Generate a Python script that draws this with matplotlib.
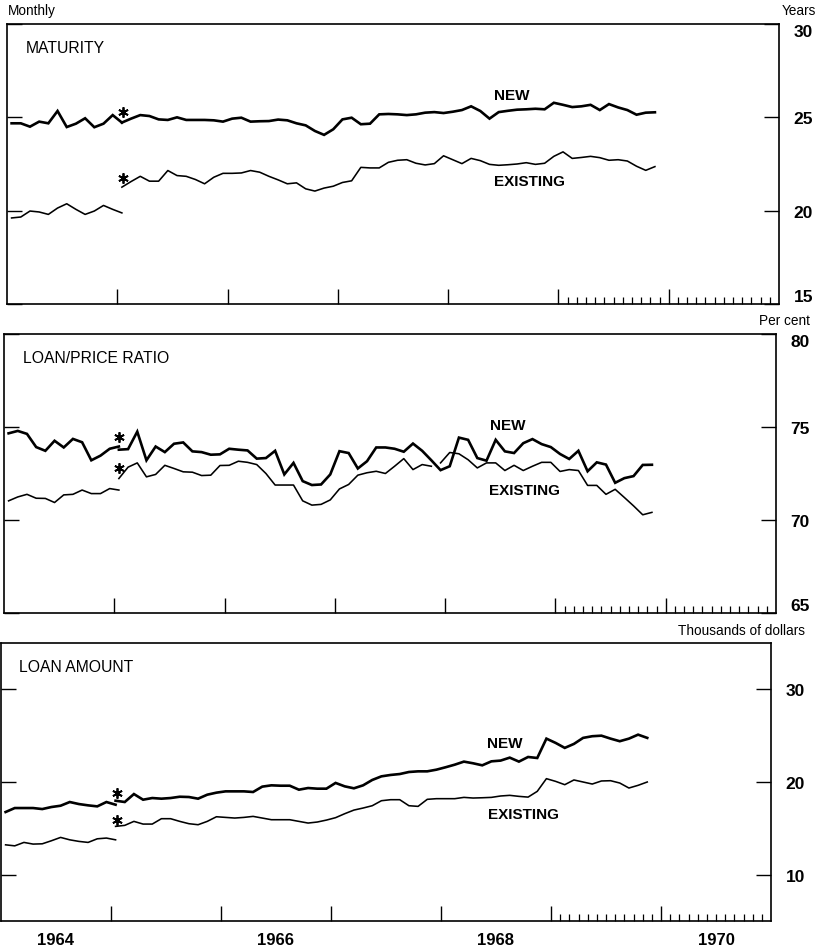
import numpy as np
import matplotlib
matplotlib.use("Agg")
import matplotlib.pyplot as plt
from matplotlib.transforms import blended_transform_factory

plt.rcParams['font.family'] = ['Liberation Sans', 'DejaVu Sans']

# ---- data (monthly) ----
# old series: Jan 1964 - Jan 1965, revised series: Jan 1965 - Nov 1969
old_start, old_len = 1964, 13
new_start, new_len = 1965, 59

mat_new_old = [24.68, 24.68, 24.5, 24.77, 24.68, 25.34, 24.48, 24.66, 24.95, 24.47, 24.66, 25.12, 24.72]
mat_new = [24.72, 24.93, 25.12, 25.07, 24.89, 24.86, 25.0, 24.86, 24.86, 24.86, 24.84, 24.77,
           24.93, 24.98, 24.77, 24.79, 24.8, 24.88, 24.84, 24.68, 24.57, 24.27, 24.06, 24.36,
           24.89, 24.98, 24.63, 24.66, 25.16, 25.18, 25.16, 25.12, 25.16, 25.25, 25.28, 25.23,
           25.3, 25.39, 25.59, 25.34, 24.93, 25.28, 25.35, 25.41, 25.43, 25.46, 25.43, 25.78,
           25.67, 25.55, 25.59, 25.67, 25.39, 25.71, 25.53, 25.39, 25.14, 25.25, 25.27]
mat_ex_old = [19.61, 19.66, 19.98, 19.93, 19.8, 20.14, 20.37, 20.07, 19.8, 19.98, 20.28, 20.07, 19.88]
mat_ex = [21.26, 21.56, 21.84, 21.58, 21.58, 22.15, 21.88, 21.84, 21.67, 21.44, 21.79, 22.0,
          22.0, 22.02, 22.15, 22.06, 21.84, 21.65, 21.44, 21.49, 21.17, 21.05, 21.21, 21.31,
          21.51, 21.6, 22.32, 22.29, 22.29, 22.59, 22.7, 22.73, 22.54, 22.45, 22.52, 22.94,
          22.73, 22.52, 22.8, 22.68, 22.48, 22.43, 22.46, 22.5, 22.57, 22.48, 22.54, 22.91,
          23.15, 22.8, 22.85, 22.91, 22.84, 22.7, 22.73, 22.66, 22.38, 22.16, 22.36]

lp_new_old = [74.66, 74.79, 74.63, 73.92, 73.72, 74.26, 73.9, 74.36, 74.18, 73.21, 73.46, 73.83, 73.95]
lp_new = [73.78, 73.81, 74.75, 73.21, 73.95, 73.65, 74.1, 74.17, 73.69, 73.65, 73.51, 73.53,
          73.83, 73.78, 73.74, 73.3, 73.33, 73.72, 72.45, 73.07, 72.09, 71.88, 71.91, 72.45,
          73.7, 73.6, 72.77, 73.16, 73.9, 73.9, 73.83, 73.67, 74.11, 73.72, 73.21, 72.68,
          72.89, 74.43, 74.31, 73.33, 73.19, 74.31, 73.69, 73.6, 74.13, 74.35, 74.08, 73.92,
          73.55, 73.28, 73.72, 72.62, 73.1, 72.98, 72.0, 72.25, 72.36, 72.96, 72.97]
lp_ex_old = [71.03, 71.24, 71.38, 71.17, 71.16, 70.94, 71.35, 71.38, 71.61, 71.42, 71.42, 71.69, 71.61]
lp_ex = [72.23, 72.84, 73.07, 72.32, 72.45, 72.94, 72.77, 72.59, 72.57, 72.39, 72.41, 72.93,
         72.94, 73.16, 73.1, 72.98, 72.5, 71.88, 71.88, 71.88, 71.03, 70.8, 70.84, 71.08,
         71.67, 71.91, 72.41, 72.54, 72.62, 72.5, 72.89, 73.3, 72.71, 72.98, 72.89,
         73.07, 73.63, 73.56, 73.24, 72.8, 73.07, 73.07, 72.66, 72.94, 72.66, 72.89, 73.1, 73.1,
         72.61, 72.71, 72.66, 71.86, 71.86, 71.38, 71.65, 71.21, 70.76, 70.28, 70.41]
lp_ex_break = 35  # pen break between Nov and Dec 1967

amt_new_old = [16.76, 17.19, 17.19, 17.19, 17.08, 17.3, 17.44, 17.84, 17.62, 17.48, 17.37, 17.84, 17.55]
amt_new = [17.98, 17.84, 18.7, 18.09, 18.27, 18.2, 18.27, 18.41, 18.38, 18.2, 18.63, 18.85,
           18.99, 18.99, 18.99, 18.92, 19.5, 19.64, 19.6, 19.6, 19.17, 19.35, 19.28, 19.28,
           19.9, 19.53, 19.32, 19.64, 20.22, 20.61, 20.76, 20.86, 21.08, 21.15, 21.15, 21.33,
           21.59, 21.87, 22.2, 22.02, 21.8, 22.23, 22.31, 22.63, 22.2, 22.7, 22.59, 24.68,
           24.22, 23.68, 24.11, 24.76, 24.94, 25.0, 24.68, 24.4, 24.68, 25.11, 24.76]
amt_ex_old = [13.22, 13.11, 13.48, 13.3, 13.33, 13.66, 14.02, 13.76, 13.59, 13.48, 13.87, 13.95, 13.76]
amt_ex = [15.21, 15.32, 15.75, 15.46, 15.46, 16.04, 16.04, 15.75, 15.5, 15.39, 15.75, 16.25,
          16.18, 16.11, 16.18, 16.29, 16.11, 15.93, 15.93, 15.93, 15.75, 15.57, 15.68, 15.89,
          16.15, 16.58, 16.97, 17.19, 17.44, 17.98, 18.09, 18.09, 17.44, 17.37, 18.13, 18.2,
          18.2, 18.2, 18.34, 18.27, 18.3, 18.34, 18.49, 18.56, 18.45, 18.37, 18.99, 20.36,
          20.07, 19.71, 20.22, 20.0, 19.78, 20.11, 20.14, 19.89, 19.35, 19.64, 20.0]

panel_titles = ["MATURITY", "LOAN/PRICE RATIO", "LOAN AMOUNT"]
unit_labels = ["Years", "Per cent", "Thousands of dollars"]
ylims = [(15, 30), (65, 80), (5, 35)]
yticks = [[15, 20, 25, 30], [65, 70, 75, 80], [10, 20, 30]]
year_labels = [1964, 1966, 1968, 1970]

x_old = old_start + (np.arange(old_len) + 0.5) / 12
x_new = new_start + (np.arange(new_len) + 0.5) / 12

W, H = 826, 953
fig = plt.figure(figsize=(W / 100, H / 100), dpi=100)

# panel boxes in pixels (left, right, top, bottom) -- scan is slightly skewed
boxes = [(7, 779, 25, 305), (4, 776, 335, 614), (1, 771, 644, 922)]
axes = []
for (l, r, t, b) in boxes:
    ax = fig.add_axes([l / W, 1 - b / H, (r - l) / W, (b - t) / H])
    axes.append(ax)

LW_NEW, LW_EX = 1.9, 1.15

series = [
    (mat_new_old, mat_new, mat_ex_old, mat_ex),
    (lp_new_old, lp_new, lp_ex_old, lp_ex),
    (amt_new_old, amt_new, amt_ex_old, amt_ex),
]

for i, ax in enumerate(axes):
    n_old, n_new, e_old, e_new = series[i]
    ax.plot(x_old, n_old, color='black', lw=LW_NEW, solid_joinstyle='miter')
    ax.plot(x_new, n_new, color='black', lw=LW_NEW, solid_joinstyle='miter')
    ax.plot(x_old, e_old, color='black', lw=LW_EX)
    if i == 1:
        ax.plot(x_new[:lp_ex_break], e_new[:lp_ex_break], color='black', lw=LW_EX)
        ax.plot(x_new[lp_ex_break:], e_new[lp_ex_break:], color='black', lw=LW_EX)
    else:
        ax.plot(x_new, e_new, color='black', lw=LW_EX)

    ax.set_xlim(1964, 1971)
    ax.set_ylim(*ylims[i])
    ax.set_yticks(yticks[i])
    ax.set_yticklabels([str(v) for v in yticks[i]], fontsize=12.5, fontweight='bold')
    ax.tick_params(axis='y', direction='in', length=11, width=1.0,
                   left=True, right=True, labelleft=False, labelright=True, pad=10.5)
    # labels sitting on the frame corners are pulled inside the box
    lo, hi = ylims[i]
    for lab, v in zip(ax.get_yticklabels(), yticks[i]):
        if v == hi:
            lab.set_verticalalignment('top')
        elif v == lo:
            lab.set_verticalalignment('bottom')
    ax.set_xticks(np.arange(1965, 1971))
    ax.set_xticks([y + m / 12 for y in (1969, 1970) for m in range(1, 12)], minor=True)
    ax.tick_params(axis='x', which='major', direction='in', length=11, width=1.0,
                   bottom=True, top=False, labelbottom=False)
    ax.tick_params(axis='x', which='minor', direction='in', length=5, width=0.9,
                   bottom=True, top=False)
    for s in ax.spines.values():
        s.set_linewidth(1.2)

    ax.text(0.024, 0.916, panel_titles[i], transform=ax.transAxes, fontsize=11.3,
            ha='left', va='center')

# NEW / EXISTING labels and asterisks (data coordinates)
lab_pos = [((1968.58, 26.22), (1968.74, 21.6)),
           ((1968.57, 75.1), (1968.72, 71.6)),
           ((1968.58, 24.2), (1968.75, 16.5))]
star_pos = [((1965.05, 25.27), (1965.05, 21.75)),
            ((1965.04, 74.47), (1965.04, 72.82)),
            ((1965.05, 18.8), (1965.05, 15.9))]
for i, ax in enumerate(axes):
    (nx, ny), (ex, ey) = lab_pos[i]
    ax.text(nx, ny, "NEW", fontsize=11, fontweight='bold', ha='center', va='center')
    ax.text(ex, ey, "EXISTING", fontsize=11, fontweight='bold', ha='center', va='center')
    sx = [p[0] for p in star_pos[i]]
    sy = [p[1] for p in star_pos[i]]
    ax.plot(sx, sy, linestyle='none', marker=(6, 2, 0), markersize=7.5,
            markeredgewidth=1.3, color='black')

# year labels under bottom panel
trans = blended_transform_factory(axes[2].transData, axes[2].transAxes)
for yr in year_labels:
    axes[2].text(yr + 0.5, -0.068, str(yr), transform=trans, fontsize=12,
                 fontweight='bold', ha='center', va='center')

# unit labels
fig.text(8 / W, 1 - 11 / H, "Monthly", fontsize=9.8, ha='left', va='center')
unit_pos = [(816, 11), (810, 321), (805, 631)]
for lab, (ux, uy) in zip(unit_labels, unit_pos):
    fig.text(ux / W, 1 - uy / H, lab, fontsize=9.8, ha='right', va='center')

fig.savefig("out.png", dpi=100, facecolor='white')
